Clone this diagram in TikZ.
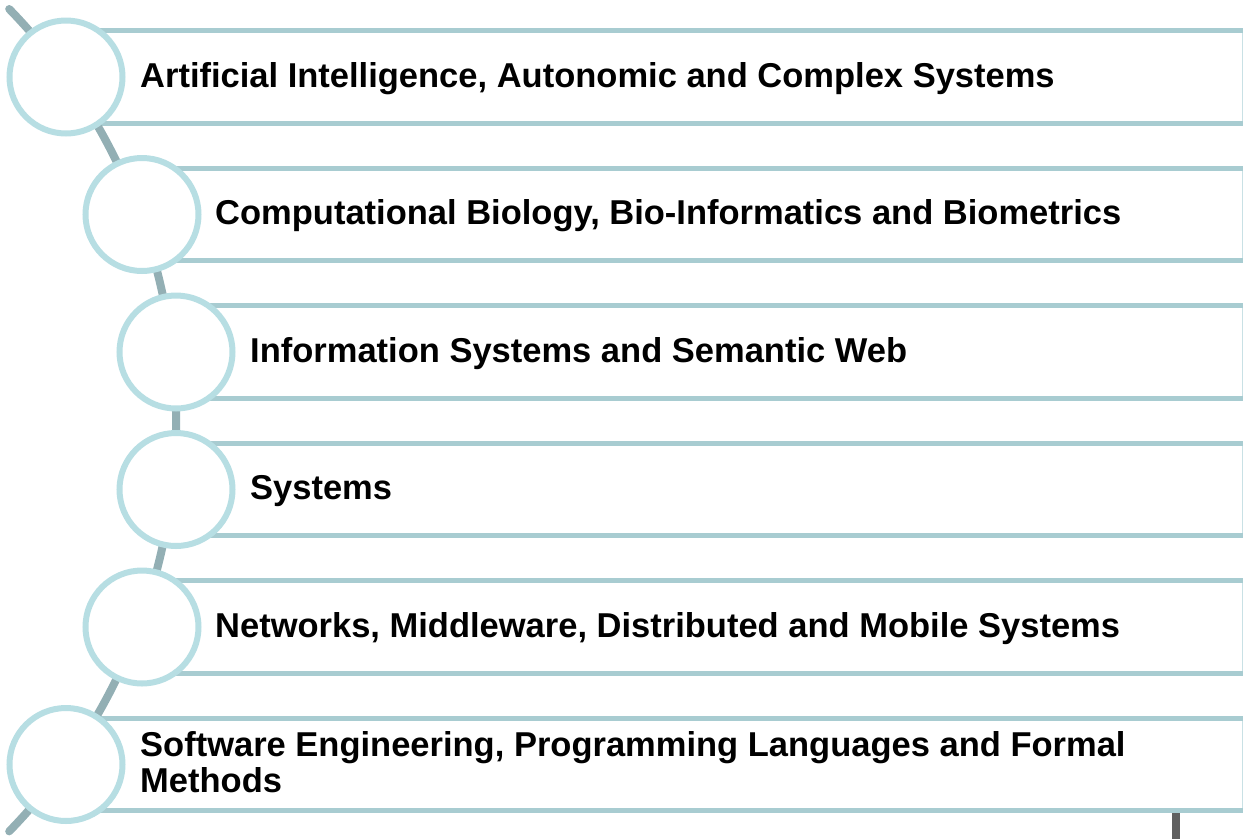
\documentclass[tikz,border=0pt]{standalone}
\usepackage{fontspec}
\setmainfont{Liberation Sans}
\definecolor{ringcol}{HTML}{B7DEE3}
\definecolor{barcol}{HTML}{A8CCD1}
\definecolor{edgecol}{HTML}{C9E1E5}
\definecolor{spinecol}{HTML}{93AFB4}
\definecolor{markcol}{HTML}{606060}
\begin{document}
\begin{tikzpicture}[x=1pt, y=-1pt]
      \tikzset{ring/.style={draw=ringcol, line width=6pt, fill=white, circle, minimum size=113pt, inner sep=0pt},
               bar/.style={draw=edgecol, line width=1.5pt, fill=white, rectangle, minimum height=91pt, anchor=west, inner sep=0pt},
               barline/.style={draw=barcol, line width=5pt},
               topic/.style={anchor=west, align=left, inner sep=0pt, font=\fontsize{34.5}{36}\selectfont\bfseries},
               spine/.style={draw=spinecol, line width=8pt, line cap=round}}
      \useasboundingbox (0,0) rectangle (1243,839);
%% Bars
      	\node[bar, minimum width=1176pt] (b1) at (66,77) {};
      	\node[bar, minimum width=1100pt] (b2) at (142,214.5) {};
      	\node[bar, minimum width=1066pt] (b3) at (176,352) {};
      	\node[bar, minimum width=1066pt] (b4) at (176,489.5) {};
      	\node[bar, minimum width=1100pt] (b5) at (142,627) {};
      	\node[bar, minimum width=1176pt] (b6) at (66,764.5) {};
		\draw[barline] (b1.north west) -- (b1.north east);
		\draw[barline] (b1.south west) -- (b1.south east);
		\draw[barline] (b2.north west) -- (b2.north east);
		\draw[barline] (b2.south west) -- (b2.south east);
		\draw[barline] (b3.north west) -- (b3.north east);
		\draw[barline] (b3.south west) -- (b3.south east);
		\draw[barline] (b4.north west) -- (b4.north east);
		\draw[barline] (b4.south west) -- (b4.south east);
		\draw[barline] (b5.north west) -- (b5.north east);
		\draw[barline] (b5.south west) -- (b5.south east);
		\draw[barline] (b6.north west) -- (b6.north east);
		\draw[barline] (b6.south west) -- (b6.south east);
%% Spine
      	\coordinate (top) at (9.2,9);
		\draw[spine] (top) arc[start angle=-44.2, end angle=44.2, radius=589.8];
%% Rings
      	\node[ring] (c1) at (66,77) {};
      	\node[ring] (c2) at (142,214.5) {};
      	\node[ring] (c3) at (176,352) {};
      	\node[ring] (c4) at (176,489.5) {};
      	\node[ring] (c5) at (142,627) {};
      	\node[ring] (c6) at (66,764.5) {};
%% Labels
      	\node[topic] (t1) at (140,78.5) {Artificial Intelligence, Autonomic and Complex Systems};
      	\node[topic] (t2) at (215,216) {Computational Biology, Bio-Informatics and Biometrics};
      	\node[topic] (t3) at (250,353.5) {Information Systems and Semantic Web};
      	\node[topic] (t4) at (250,491) {Systems};
      	\node[topic] (t5) at (215,628.5) {Networks, Middleware, Distributed and Mobile Systems};
      	\node[topic] (t6) at (140,762) {Software Engineering, Programming Languages and Formal\\Methods};
%% Mark
		\fill[markcol] (1172,813) rectangle (1180,839);
	\end{tikzpicture}
\end{document}
